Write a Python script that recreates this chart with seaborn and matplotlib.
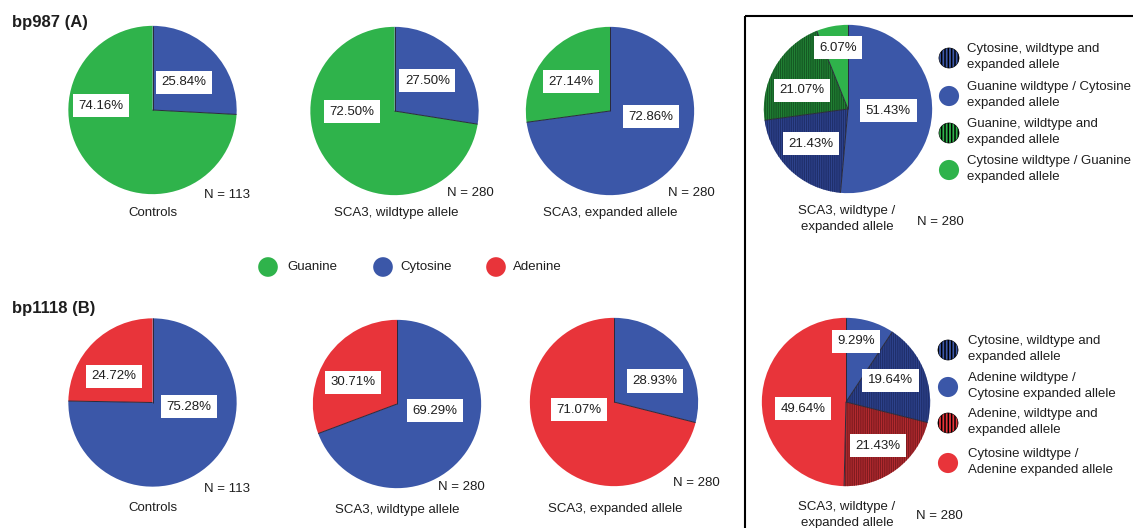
import matplotlib
matplotlib.use("Agg")
import numpy as np
import matplotlib.pyplot as plt
from matplotlib.patches import Rectangle
import seaborn as sns

# ---------------- data ----------------
groups = ["Controls", "SCA3, wildtype allele", "SCA3, expanded allele"]
group_n = [113, 280, 280]

# bp987: cytosine / guanine frequencies (%)
bp987_cytosine = [25.84, 27.50, 72.86]
bp987_guanine = [74.16, 72.50, 27.14]

# bp1118: cytosine / adenine frequencies (%)
bp1118_cytosine = [75.28, 69.29, 28.93]
bp1118_adenine = [24.72, 30.71, 71.07]

# combined wildtype / expanded genotypes (%), clockwise from 12 o'clock
combo987_values = [51.43, 21.43, 21.07, 6.07]
combo987_legend = ["Cytosine, wildtype and\nexpanded allele",
                   "Guanine wildtype / Cytosine\nexpanded allele",
                   "Guanine, wildtype and\nexpanded allele",
                   "Cytosine wildtype / Guanine\nexpanded allele"]
combo1118_values = [9.29, 19.64, 21.43, 49.64]
combo1118_legend = ["Cytosine, wildtype and\nexpanded allele",
                    "Adenine wildtype /\nCytosine expanded allele",
                    "Adenine, wildtype and\nexpanded allele",
                    "Cytosine wildtype /\nAdenine expanded allele"]
combo_n = 280
combo_caption = "SCA3, wildtype /\nexpanded allele"

bases = ["Guanine", "Cytosine", "Adenine"]

# ---------------- style ----------------
sns.set_theme(style="white")
plt.rcParams["font.family"] = ["Liberation Sans", "DejaVu Sans"]
plt.rcParams["hatch.linewidth"] = 0.5

green, blue, red = sns.color_palette(["#2fb34b", "#3b57a8", "#e8343a"])
base_colors = {"Guanine": green, "Cytosine": blue, "Adenine": red}
ink = "#1e1e1e"
FS = 9.5
LS = 1.38
edge_dark = "#2a2a3a"

W, H = 1133, 528
fig = plt.figure(figsize=(W / 100, H / 100), dpi=100)

# overlay in pixel coordinates for titles, captions, legends and frame
ov = fig.add_axes([0, 0, 1, 1])
ov.set_xlim(0, W)
ov.set_ylim(H, 0)
ov.axis("off")


def pie_axes(cx, cy, r=85):
    return fig.add_axes([(cx - r) / W, 1 - (cy + r) / H, 2 * r / W, 2 * r / H])


def draw_pie(ax, values, colors, hatch_colors, label_xy):
    wedges, _ = ax.pie(values, colors=colors, startangle=90, counterclock=False,
                       radius=1.0, wedgeprops=dict(linewidth=0))
    for w, hc in zip(wedges, hatch_colors):
        if hc:
            w.set_edgecolor(hc)
            w.set_linewidth(0)
            w.set_hatch("|" * 9)
    # thin dark separators along the radial edges of each wedge
    for w in wedges:
        t = np.deg2rad(w.theta1)
        ax.plot([0, np.cos(t)], [0, np.sin(t)], color=edge_dark, lw=0.7,
                solid_capstyle="butt")
    for v, (x, y) in zip(values, label_xy):
        ax.text(x, y, f"{v:.2f}%", ha="center", va="center", fontsize=FS,
                color=ink, bbox=dict(boxstyle="square,pad=0.42", fc="white", ec="none"))
    ax.set_xlim(-1.01, 1.01)
    ax.set_ylim(-1.01, 1.01)
    ax.set_aspect("equal")
    ax.axis("off")


# ---------------- layout ----------------
row_a_centers = [(152.5, 110), (394.5, 111), (610, 111)]
row_b_centers = [(152.5, 402.5), (397, 404), (614, 402)]
row_a_labels = [[(0.37, 0.33), (-0.61, 0.05)],
                [(0.39, 0.36), (-0.51, -0.01)],
                [(0.49, -0.07), (-0.46, 0.35)]]
row_b_labels = [[(0.43, -0.05), (-0.46, 0.31)],
                [(0.45, -0.08), (-0.52, 0.26)],
                [(0.49, 0.25), (-0.42, -0.09)]]
row_a_n_xy = [(227, 195), (470, 193), (691, 193)]
row_a_cap_xy = [(153, 213), (396, 213), (610, 213)]
row_b_n_xy = [(227, 489), (461, 487), (696, 483)]
row_b_cap_xy = [(153, 508), (397, 510), (615, 509)]

# bp987 row
for i, (cx, cy) in enumerate(row_a_centers):
    ax = pie_axes(cx, cy)
    draw_pie(ax, [bp987_cytosine[i], bp987_guanine[i]], [blue, green],
             [None, None], row_a_labels[i])
    ov.text(*row_a_n_xy[i], f"N = {group_n[i]}", ha="center", va="center", fontsize=FS, color=ink)
    ov.text(*row_a_cap_xy[i], groups[i], ha="center", va="center", fontsize=FS, color=ink)

# bp1118 row
for i, (cx, cy) in enumerate(row_b_centers):
    ax = pie_axes(cx, cy)
    draw_pie(ax, [bp1118_cytosine[i], bp1118_adenine[i]], [blue, red],
             [None, None], row_b_labels[i])
    ov.text(*row_b_n_xy[i], f"N = {group_n[i]}", ha="center", va="center", fontsize=FS, color=ink)
    ov.text(*row_b_cap_xy[i], groups[i], ha="center", va="center", fontsize=FS, color=ink)

# combined genotype pies (hatched wedges: same base on both alleles)
ax = pie_axes(848, 109)
draw_pie(ax, combo987_values, [blue, "#2d428c", "#218034", green],
         [None, "#1a275e", "#10491c", None],
         [(0.48, -0.02), (-0.44, -0.41), (-0.55, 0.22), (-0.12, 0.73)])
ax = pie_axes(846, 402)
draw_pie(ax, combo1118_values, [blue, "#2d428c", "#b32a2f", red],
         [None, "#1a275e", "#6a1519", None],
         [(0.12, 0.72), (0.53, 0.26), (0.38, -0.52), (-0.51, -0.08)])

ov.text(847, 219, combo_caption, ha="center", va="center", fontsize=FS, color=ink,
        linespacing=1.45)
ov.text(940, 222, f"N = {combo_n}", ha="center", va="center", fontsize=FS, color=ink)
ov.text(847, 515, combo_caption, ha="center", va="center", fontsize=FS, color=ink,
        linespacing=1.45)
ov.text(939, 516, f"N = {combo_n}", ha="center", va="center", fontsize=FS, color=ink)

# panel titles
ov.text(12, 22, "bp987 (A)", ha="left", va="center", fontsize=12, fontweight="bold", color=ink)
ov.text(12, 309, "bp1118 (B)", ha="left", va="center", fontsize=12, fontweight="bold", color=ink)

# base legend
for b, mx, tx in zip(bases, [268, 383, 496], [287, 400, 513]):
    ov.scatter([mx], [267], s=200, color=base_colors[b], edgecolor="none")
    ov.text(tx, 267, b, ha="left", va="center", fontsize=FS, color=ink)

# genotype legends
plt.rcParams["hatch.linewidth"] = 1.1
leg_hatch = "|" * 5
combo987_marker = [(blue, leg_hatch), (blue, None), (green, leg_hatch), (green, None)]
combo1118_marker = [(blue, leg_hatch), (blue, None), (red, leg_hatch), (red, None)]
for txt, (c, h), my in zip(combo987_legend, combo987_marker, [58, 96, 133, 170]):
    ov.scatter([949], [my], s=210, facecolor=c, edgecolor="black" if h else "none",
               hatch=h, linewidths=0.4)
    ov.text(967, my - 1, txt, ha="left", va="center", fontsize=FS, color=ink,
            linespacing=LS)
for txt, (c, h), my in zip(combo1118_legend, combo1118_marker, [350, 387, 423, 463]):
    ov.scatter([948], [my], s=210, facecolor=c, edgecolor="black" if h else "none",
               hatch=h, linewidths=0.4)
    ov.text(968, my - 1, txt, ha="left", va="center", fontsize=FS, color=ink,
            linespacing=LS)

# frame around the genotype panel
ov.add_patch(Rectangle((745, 16), 420, 540, fill=False, edgecolor="black", linewidth=1.5,
                       clip_on=False))

fig.savefig("out.png", dpi=100)
